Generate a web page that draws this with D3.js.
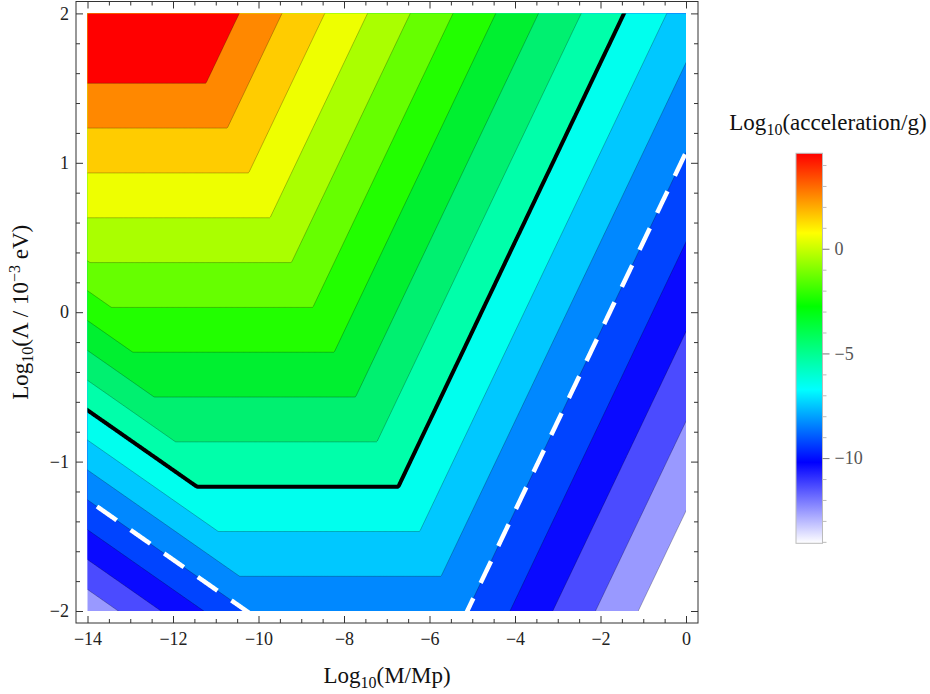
<!DOCTYPE html>
<html><head><meta charset="utf-8">
<script src="https://cdn.jsdelivr.net/npm/d3@7"></script>
<style>
body{margin:0;background:#fff}
svg{display:block}
text{font-family:"Liberation Serif","Times New Roman",serif}
</style>
</head><body><svg id="c" width="930" height="694"></svg>
<script>
// ---------------- data ----------------
const xDomain = [-14, 0];
const yDomain = [-2, 2];
const xMajorTicks = [-14, -12, -10, -8, -6, -4, -2, 0];
const yMajorTicks = [-2, -1, 0, 1, 2];
const levels = [-12, -11, -10, -9, -8, -7, -6, -5, -4, -3, -2, -1, 0, 1, 2, 3, 4];
const bandColors = ["#ffffff", "#9999ff", "#4b4bff", "#0a0aff", "#0044ff", "#0088ff", "#00c8ff",
  "#00ffee", "#00ffaa", "#00f070", "#00f030", "#22ff00", "#66ff00", "#aaff00", "#eeff00",
  "#ffcc00", "#ff8800", "#ff0000"];
const boldLevel = -5;
const dashedLevel = -8;
// piecewise regimes of log10(a/g): [coef of y, coef of x, constant]
const regimeLeft = [5, 1, 12.28];
const regimeMid = [3.3333, 0, -1.107];
const regimeRight = [1.6667, -1, -9.783];
const legendStops = [4.56, 0.75, -2.75, -6.73, -10.2, -14.07];
const legendColors = ["#ff0000", "#ffff00", "#00ff00", "#00ffff", "#0000ff", "#ffffff"];
const legendMajor = [-10, -5, 0];
const legendMinor = [-14, -13, -12, -11, -9, -8, -7, -6, -4, -3, -2, -1, 1, 2, 3, 4];

// ---------------- layout ----------------
const svg = d3.select("#c");
const x = d3.scaleLinear().domain(xDomain).range([87.5, 686]);
const y = d3.scaleLinear().domain(yDomain).range([611, 13.4]);
const frame = {l: 76, r: 698, t: 1.5, b: 623};
const FONT = '"Liberation Serif","Times New Roman",serif';
const TICKFS = 18;

// field
const field = (xx, yy) => Math.min(
  regimeLeft[0] * yy + regimeLeft[1] * xx + regimeLeft[2],
  regimeMid[0] * yy + regimeMid[1] * xx + regimeMid[2],
  regimeRight[0] * yy + regimeRight[1] * xx + regimeRight[2]);

const gx0 = -14.6, gx1 = 0.6, gy0 = -2.2, gy1 = 2.2, nx = 761, ny = 441;
const values = new Float64Array(nx * ny);
for (let j = 0; j < ny; j++) {
  const yy = gy1 - j * (gy1 - gy0) / (ny - 1);
  for (let i = 0; i < nx; i++) {
    const xx = gx0 + i * (gx1 - gx0) / (nx - 1);
    values[j * nx + i] = field(xx, yy);
  }
}
const gridX = d3.scaleLinear().domain([0.5, nx - 0.5]).range([gx0, gx1]);
const gridY = d3.scaleLinear().domain([0.5, ny - 0.5]).range([gy1, gy0]);
const proj = d3.geoTransform({point(px, py) { this.stream.point(x(gridX(px)), y(gridY(py))); }});
const path = d3.geoPath(proj);
const contours = d3.contours().size([nx, ny]).thresholds(levels)(values);

svg.append("clipPath").attr("id", "clip").append("rect")
  .attr("x", x(xDomain[0])).attr("y", y(yDomain[1]))
  .attr("width", x(xDomain[1]) - x(xDomain[0])).attr("height", y(yDomain[0]) - y(yDomain[1]));

const plot = svg.append("g").attr("clip-path", "url(#clip)");
plot.append("rect").attr("x", x(xDomain[0])).attr("y", y(yDomain[1]))
  .attr("width", x(xDomain[1]) - x(xDomain[0])).attr("height", y(yDomain[0]) - y(yDomain[1]))
  .attr("fill", bandColors[0]);
plot.selectAll("path.band").data(contours).join("path").attr("class", "band")
  .attr("d", path).attr("fill", (d, i) => bandColors[i + 1]).attr("stroke", "none");
plot.selectAll("path.line").data(contours).join("path").attr("class", "line")
  .attr("d", path).attr("fill", "none").attr("stroke", "rgba(0,0,0,0.32)").attr("stroke-width", 0.8);
plot.append("path").datum(contours.find(c => c.value === boldLevel))
  .attr("d", path).attr("fill", "none").attr("stroke", "#000").attr("stroke-width", 4)
  .attr("stroke-linejoin", "round");
plot.append("path").datum(contours.find(c => c.value === dashedLevel))
  .attr("d", path).attr("fill", "none").attr("stroke", "#fff").attr("stroke-width", 4.5)
  .attr("stroke-dasharray", "24 17");

// ---------------- axes ----------------
const xMinor = d3.range(-14, 0.01, 0.5).filter(v => !xMajorTicks.includes(v));
const yMinor = d3.range(-2, 2.01, 0.2).map(v => +v.toFixed(1)).filter(v => !yMajorTicks.includes(v));
const fmt = d3.format("d");
function styleAxis(g) {
  g.attr("font-family", FONT).attr("font-size", TICKFS);
  g.select(".domain").remove();
  g.selectAll("line").attr("stroke", "#333");
  g.selectAll("text").attr("font-size", TICKFS).attr("fill", "#222").style("font-family", FONT);
}
svg.append("g").attr("transform", `translate(0,${frame.b})`)
  .call(d3.axisBottom(x).tickValues(xMajorTicks).tickSize(-7).tickPadding(9).tickFormat(fmt)).call(styleAxis);
svg.append("g").attr("transform", `translate(0,${frame.b})`)
  .call(d3.axisBottom(x).tickValues(xMinor).tickSize(-4).tickFormat("")).call(styleAxis);
svg.append("g").attr("transform", `translate(0,${frame.t})`)
  .call(d3.axisTop(x).tickValues(xMajorTicks).tickSize(-7).tickFormat("")).call(styleAxis);
svg.append("g").attr("transform", `translate(0,${frame.t})`)
  .call(d3.axisTop(x).tickValues(xMinor).tickSize(-4).tickFormat("")).call(styleAxis);
svg.append("g").attr("transform", `translate(${frame.l},0)`)
  .call(d3.axisLeft(y).tickValues(yMajorTicks).tickSize(-7).tickPadding(7).tickFormat(fmt)).call(styleAxis);
svg.append("g").attr("transform", `translate(${frame.l},0)`)
  .call(d3.axisLeft(y).tickValues(yMinor).tickSize(-4).tickFormat("")).call(styleAxis);
svg.append("g").attr("transform", `translate(${frame.r},0)`)
  .call(d3.axisRight(y).tickValues(yMajorTicks).tickSize(-7).tickFormat("")).call(styleAxis);
svg.append("g").attr("transform", `translate(${frame.r},0)`)
  .call(d3.axisRight(y).tickValues(yMinor).tickSize(-4).tickFormat("")).call(styleAxis);
svg.append("rect").attr("x", frame.l).attr("y", frame.t).attr("width", frame.r - frame.l)
  .attr("height", frame.b - frame.t).attr("fill", "none").attr("stroke", "#333").attr("stroke-width", 1);

// titles
const xt = svg.append("text").attr("x", (frame.l + frame.r) / 2).attr("y", 683)
  .attr("text-anchor", "middle").attr("font-size", 23).attr("fill", "#111");
xt.append("tspan").text("Log");
xt.append("tspan").attr("font-size", 16).attr("dy", 5).text("10");
xt.append("tspan").attr("dy", -5).text("(M/Mp)");

const yt = svg.append("text").attr("transform", `translate(28,${(frame.t + frame.b) / 2}) rotate(-90)`)
  .attr("text-anchor", "middle").attr("font-size", 23).attr("fill", "#111");
yt.append("tspan").text("Log");
yt.append("tspan").attr("font-size", 16).attr("dy", 5).text("10");
yt.append("tspan").attr("dy", -5).text("(Λ / 10");
yt.append("tspan").attr("font-size", 16).attr("dy", -8).text("−3");
yt.append("tspan").attr("dy", 8).text(" eV)");

// ---------------- legend ----------------
const lg = d3.scaleLinear().domain([legendStops[legendStops.length - 1], legendStops[0]]).range([543.3, 153.3]);
const defs = svg.append("defs");
const grad = defs.append("linearGradient").attr("id", "lgrad")
  .attr("x1", 0).attr("y1", 0).attr("x2", 0).attr("y2", 1);
grad.selectAll("stop").data(legendStops).join("stop")
  .attr("offset", d => (lg(d) - lg(legendStops[0])) / (lg(legendStops[legendStops.length - 1]) - lg(legendStops[0])))
  .attr("stop-color", (d, i) => legendColors[i]);
svg.append("rect").attr("x", 796).attr("y", lg(legendStops[0])).attr("width", 26.5)
  .attr("height", lg(legendStops[legendStops.length - 1]) - lg(legendStops[0]))
  .attr("fill", "url(#lgrad)").attr("stroke", "#bbb").attr("stroke-width", 1);
svg.append("g").attr("transform", "translate(822.5,0)")
  .call(d3.axisRight(lg).tickValues(legendMinor).tickSize(4).tickFormat(""))
  .call(g => { g.select(".domain").remove(); g.selectAll("line").attr("stroke", "#bbb"); });
svg.append("g").attr("transform", "translate(822.5,0)")
  .call(d3.axisRight(lg).tickValues(legendMajor).tickSize(7).tickPadding(5).tickFormat(fmt))
  .call(g => { g.attr("font-family", FONT).attr("font-size", TICKFS);
    g.select(".domain").remove(); g.selectAll("line").attr("stroke", "#777");
    g.selectAll("text").attr("font-size", TICKFS).attr("fill", "#555").style("font-family", FONT); });
const lt = svg.append("text").attr("x", 828).attr("y", 130).attr("text-anchor", "middle")
  .attr("font-size", 23).attr("fill", "#111");
lt.append("tspan").text("Log");
lt.append("tspan").attr("font-size", 16).attr("dy", 5).text("10");
lt.append("tspan").attr("dy", -5).text("(acceleration/g)");
</script>
</body></html>
